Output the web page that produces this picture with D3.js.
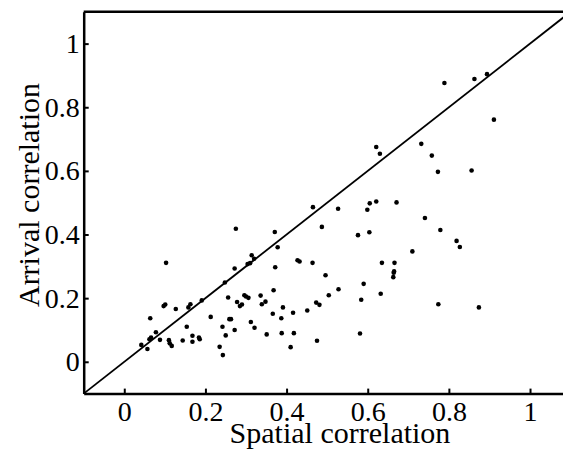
<!DOCTYPE html>
<html>
<head>
<meta charset="utf-8" />
<title>Arrival vs spatial correlation</title>
<script src="https://cdn.jsdelivr.net/npm/d3@7"></script>
<style>
  html, body { margin: 0; background: #fff; }
  svg text { font-family: "Liberation Serif", "Times New Roman", Times, serif; fill: #000; }
</style>
</head>
<body>
<div id="chart"></div>
<script>
// values
var spatial = [0.042,0.057,0.064,0.062,0.066,0.078,0.088,0.097,0.101,0.103,0.110,0.112,0.117,0.127,0.144,0.154,0.158,0.163,0.168,0.168,
  0.184,0.186,0.191,0.213,0.235,0.242,0.243,0.248,0.250,0.256,0.259,0.263,0.272,0.272,0.275,0.278,0.285,0.290,0.296,0.300,
  0.304,0.306,0.310,0.312,0.314,0.320,0.321,0.336,0.339,0.348,0.351,0.366,0.368,0.371,0.372,0.378,0.387,0.388,0.391,0.410,
  0.416,0.418,0.427,0.432,0.451,0.464,0.465,0.473,0.475,0.481,0.487,0.496,0.504,0.527,0.528,0.576,0.581,0.584,0.590,0.599,
  0.604,0.605,0.621,0.621,0.630,0.632,0.635,0.663,0.664,0.665,0.666,0.671,0.710,0.732,0.741,0.758,0.773,0.774,0.779,0.789,
  0.819,0.827,0.856,0.863,0.874,0.894,0.911];
var arrival = [0.053,0.040,0.137,0.071,0.076,0.093,0.069,0.175,0.180,0.311,0.068,0.058,0.050,0.166,0.067,0.110,0.171,0.181,0.082,0.063,
  0.076,0.071,0.193,0.141,0.047,0.110,0.021,0.249,0.083,0.202,0.134,0.134,0.100,0.293,0.418,0.188,0.175,0.180,0.209,0.205,
  0.307,0.201,0.310,0.125,0.335,0.324,0.107,0.208,0.181,0.189,0.086,0.151,0.225,0.408,0.297,0.360,0.137,0.090,0.171,0.046,
  0.154,0.090,0.319,0.315,0.161,0.311,0.486,0.186,0.066,0.179,0.424,0.272,0.209,0.481,0.228,0.398,0.089,0.195,0.245,0.478,
  0.407,0.498,0.504,0.675,0.654,0.214,0.311,0.266,0.280,0.284,0.311,0.501,0.347,0.685,0.452,0.648,0.597,0.181,0.414,0.876,
  0.380,0.361,0.601,0.889,0.171,0.904,0.761];
var ticks = [0, 0.2, 0.4, 0.6, 0.8, 1];
var domain = [-0.1, 1.1];
var serif = "'Liberation Serif', 'Times New Roman', Times, serif";

var width = 563, height = 450;
var svg = d3.select("#chart").append("svg")
    .attr("width", width)
    .attr("height", height);

var x = d3.scaleLinear().domain(domain).range([83.7, 570.6]);
var y = d3.scaleLinear().domain(domain).range([393.6, 11.8]);

// y = x reference line
svg.append("line")
    .attr("x1", x(domain[0])).attr("y1", y(domain[0]))
    .attr("x2", x(domain[1])).attr("y2", y(domain[1]))
    .attr("stroke", "#000").attr("stroke-width", 1.8);

// points
svg.selectAll("circle.pt").data(spatial).enter().append("circle")
    .attr("class", "pt")
    .attr("cx", function(d) { return x(d); })
    .attr("cy", function(d, i) { return y(arrival[i]); })
    .attr("r", 2.3)
    .attr("fill", "#000");

// axes, ticks point inward
var xAxis = d3.axisBottom(x).tickValues(ticks).tickSizeInner(-5).tickSizeOuter(0)
    .tickFormat(d3.format("~g"));
var gx = svg.append("g").attr("transform", "translate(0," + y(domain[0]) + ")").call(xAxis);
gx.selectAll(".tick text").attr("y", 27.5).attr("dy", null);

var yAxis = d3.axisLeft(y).tickValues(ticks).tickSizeInner(-5).tickSizeOuter(0)
    .tickPadding(4).tickFormat(d3.format("~g"));
var gy = svg.append("g").attr("transform", "translate(" + x(domain[0]) + ",0)").call(yAxis);

[gx, gy].forEach(function(g) {
  g.attr("font-family", serif);
  g.select(".domain").attr("stroke-width", 2.5);
  g.selectAll(".tick line").attr("stroke-width", 2);
  g.selectAll(".tick text").style("font-family", serif).style("font-size", "28px");
});

// top frame
svg.append("line")
    .attr("x1", x(domain[0])).attr("x2", width)
    .attr("y1", y(domain[1])).attr("y2", y(domain[1]))
    .attr("stroke", "#000").attr("stroke-width", 2.5);

svg.append("text")
    .attr("x", 340).attr("y", 443)
    .attr("text-anchor", "middle")
    .style("font-size", "30px")
    .text("Spatial correlation");

svg.append("text")
    .attr("transform", "translate(39,195) rotate(-90)")
    .attr("text-anchor", "middle")
    .style("font-size", "30px")
    .text("Arrival correlation");
</script>
</body>
</html>
